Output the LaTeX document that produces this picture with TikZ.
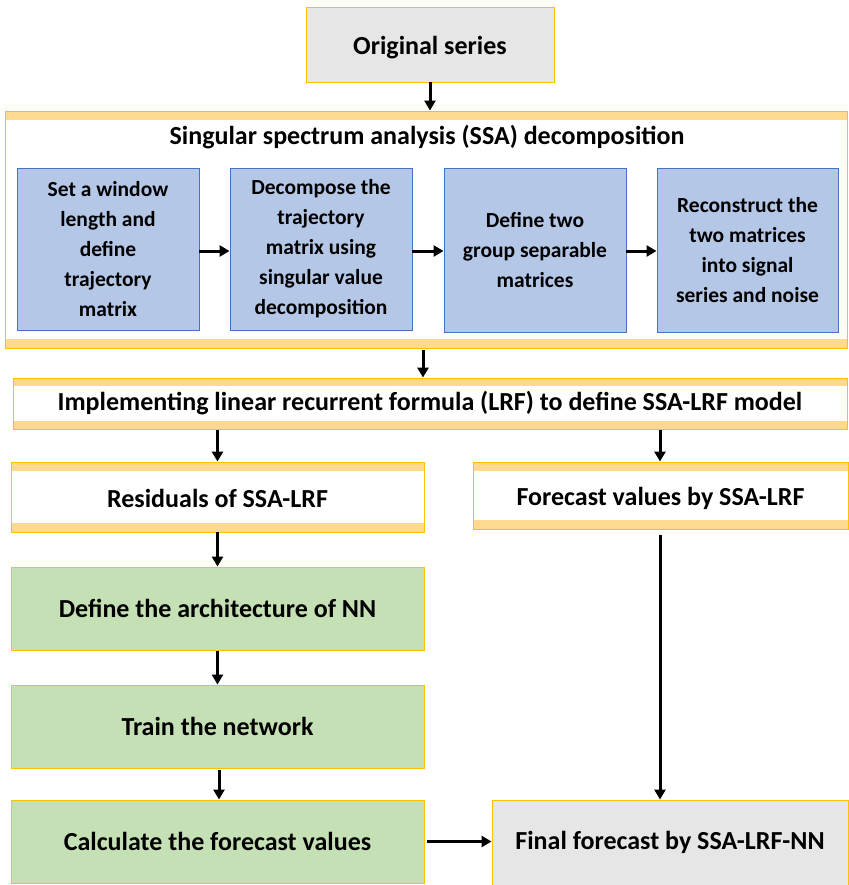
\documentclass[tikz,border=0pt]{standalone}
\usepackage{fontspec}
\setmainfont{Carlito}
\usetikzlibrary{arrows.meta}
\definecolor{gold}{HTML}{FFC000}
\definecolor{bandc}{HTML}{FFD98F}
\definecolor{greyc}{HTML}{E7E6E6}
\definecolor{bluef}{HTML}{B4C7E7}
\definecolor{blued}{HTML}{4472C4}
\definecolor{greenf}{HTML}{C5E0B4}
\newcommand{\lowr}[2]{\raisebox{-#1}[\height][\depth]{#2}}
\tikzset{
  box/.style={draw=gold, line width=0.9pt, inner sep=0pt, font=\bfseries\fontsize{26}{30}\selectfont, align=center},
  greybox/.style={box, fill=greyc},
  greenbox/.style={box, fill=greenf},
  bluebox/.style={draw=blued, line width=0.9pt, fill=bluef, inner sep=0pt, font=\bfseries\fontsize{21.5}{30}\selectfont, align=center},
  bandbox/.style={box, fill=white, path picture={
      \fill[bandc] (path picture bounding box.north west) rectangle ([yshift=-#1]path picture bounding box.north east);
      \fill[bandc] (path picture bounding box.south west) rectangle ([yshift=#1]path picture bounding box.south east);}},
  arr/.style={line width=3pt, -{Triangle[length=10pt,width=11pt]}},
}
\begin{document}
\begin{tikzpicture}[x=1pt,y=-1pt]
\useasboundingbox (0,0) rectangle (848,885);
% top
\node[greybox, minimum width=248pt, minimum height=75pt] (orig) at (430,44.5) {\lowr{3pt}{Original series}};
% SSA container
\node[bandbox=9pt, minimum width=842pt, minimum height=237pt] (ssa) at (426,229.5) {};
\node[font=\bfseries\fontsize{26}{30}\selectfont] (ssat) at (427,137) {Singular spectrum analysis (SSA) decomposition};
\node[bluebox, minimum width=182pt, minimum height=162pt] (b1) at (108,249) {Set a window\\length and\\define\\trajectory\\matrix};
\node[bluebox, minimum width=182pt, minimum height=162pt] (b2) at (321,249) {Decompose the\\trajectory\\matrix using\\singular value\\decomposition};
\node[bluebox, minimum width=182pt, minimum height=164pt] (b3) at (535,250) {Define two\\group separable\\matrices};
\node[bluebox, minimum width=181pt, minimum height=164pt] (b4) at (747.5,250) {Reconstruct the\\two matrices\\into signal\\series and noise};
% LRF
\node[bandbox=8pt, minimum width=834pt, minimum height=51pt] (lrf) at (430,403.5) {Implementing linear recurrent formula (LRF) to define SSA-LRF model};
% residuals / forecast
\node[bandbox=9pt, minimum width=413pt, minimum height=70pt] (res) at (217.5,497) {\lowr{1pt}{Residuals of SSA-LRF}};
\node[bandbox=9pt, minimum width=375pt, minimum height=67pt] (fcv) at (660.5,495.5) {\lowr{3pt}{Forecast values by SSA-LRF}};
% NN
\node[greenbox, minimum width=413pt, minimum height=83pt] (arch) at (217.5,608.5) {Define the architecture of NN};
\node[greenbox, minimum width=413pt, minimum height=83pt] (train) at (217.5,726.5) {Train the network};
\node[greenbox, minimum width=413pt, minimum height=83pt] (calc) at (217.5,841.5) {Calculate the forecast values};
\node[greybox, minimum width=356pt, minimum height=85pt] (final) at (670,842.5) {Final forecast by SSA-LRF-NN};
% arrows
\draw[arr] (orig.south) -- (orig.south |- ssa.north);
\draw[arr] (b1.east |- 0,251) -- (b2.west |- 0,251);
\draw[arr] (b2.east |- 0,251) -- (b3.west |- 0,251);
\draw[arr] (b3.east |- 0,251) -- (b4.west |- 0,251);
\draw[arr] ([yshift=-2pt]ssa.south -| 423,0) -- (lrf.north -| 423,0);
\draw[arr] ([yshift=-1pt]lrf.south -| res.north) -- (res.north);
\draw[arr] ([yshift=-1pt]lrf.south -| 660,0) -- (fcv.north -| 660,0);
\draw[arr] (res.south) -- (arch.north);
\draw[arr] ([yshift=-1pt]arch.south) -- (train.north);
\draw[arr] ([yshift=-2pt]train.south -| 219,0) -- (calc.north -| 219,0);
\draw[arr] ([xshift=3pt]calc.east) -- (final.west |- calc.east);
\draw[arr] ([yshift=-6pt]fcv.south -| 660,0) -- (final.north -| 660,0);
\end{tikzpicture}
\end{document}
